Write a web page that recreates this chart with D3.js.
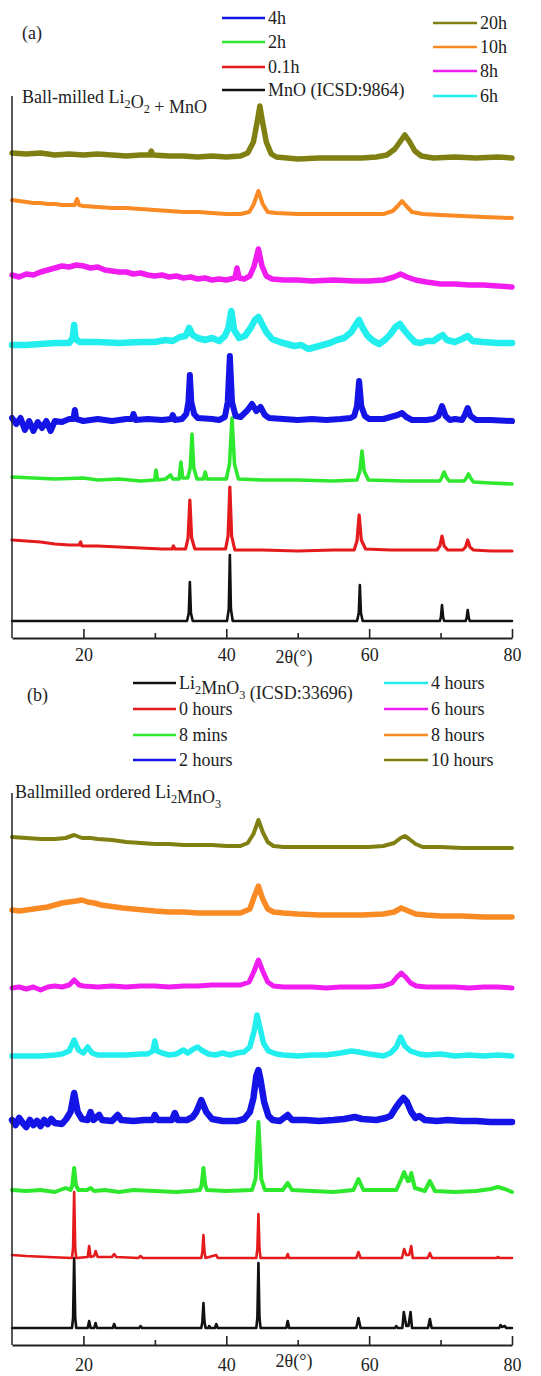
<!DOCTYPE html>
<html>
<head>
<meta charset="utf-8">
<script src="https://cdn.jsdelivr.net/npm/d3@7"></script>
<style>
  html, body { margin: 0; padding: 0; background: #fff; }
  svg { display: block; }
  text { font-family: "Liberation Serif", "Times New Roman", Times, serif; fill: #222; }
</style>
</head>
<body>
<svg id="chart" width="541" height="1376"></svg>
<script>
// ---------- shared axis data ----------
const thetaDomain = [10, 80];
const majorTicks = [20, 40, 60, 80];
const minorTicks = [30, 50, 70];
const xTitle = "2θ(°)";

// ---------- panel (a): ball-milled Li2O2 + MnO ----------
// each pattern: [2θ, intensity above its own baseline]
const aMnO = [[10,0],[34.5,0],[34.75,8],[34.9,39],[35.05,8],[35.3,0],[40.1,0],[40.35,12],[40.5,66],[40.65,12],[40.9,0],[58.3,0],[58.55,8],[58.7,36],[58.85,8],[59.1,0],[69.9,0],[70.05,4],[70.2,16],[70.35,4],[70.5,0],[73.5,0],[73.65,3],[73.8,11],[73.95,3],[74.1,0],[80,0]];
const a01h = [[10,10],[12,9],[14,8],[16,6],[18,5],[19.4,5],[19.6,8],[19.8,4],[22,4],[25,3],[28,2],[31,1],[32.4,1],[32.6,4],[32.8,1],[34.3,1],[34.65,12],[34.9,50],[35.15,12],[35.6,1],[39.9,1],[40.25,14],[40.5,63],[40.75,14],[41.2,0],[45,0],[50,-1],[55,0],[57.9,0],[58.3,9],[58.6,35],[58.9,10],[59.5,1],[63,0],[69.5,0],[69.9,4],[70.2,14],[70.5,4],[71,0],[73.1,0],[73.5,3],[73.8,10],[74.1,3],[74.6,0],[77,-1],[80,-1]];
const a2h = [[10,3],[13,2],[16,1],[20,2],[22,0],[25,1],[28,-1],[30,0],[30.15,10],[30.4,0],[31.5,1],[32.2,5],[32.5,1],[33.4,1],[33.65,18],[33.9,2],[34.6,2],[34.95,12],[35.2,46],[35.45,12],[35.9,1],[36.8,1],[37.05,8],[37.3,1],[40.0,1],[40.45,16],[40.8,62],[41.15,16],[41.7,1],[45,0],[50,0],[55,-1],[58.3,0],[58.7,9],[59.0,29],[59.3,9],[59.9,0],[65,-1],[69.9,-1],[70.2,3],[70.5,8],[70.8,3],[71.2,-1],[73.3,-1],[73.6,2],[73.9,6],[74.2,2],[74.6,-2],[77,-3],[80,-4]];
const a4h = [[10,2],[10.6,-4],[11.2,2],[11.8,-10],[12.4,-1],[13,-11],[13.6,-2],[14.2,-8],[14.8,-1],[15.4,-11],[16,-1],[17,-2],[18,1],[18.6,1],[18.8,10],[19,1],[20,-1],[22,1],[24,-1],[26,1],[26.8,1],[27,6],[27.3,0],[29,1],[31,0],[32.3,1],[32.5,5],[32.8,0],[33.8,1],[34.4,6],[34.7,18],[34.9,45],[35.1,18],[35.5,6],[36,2],[38,1],[39,0],[39.8,3],[40.2,18],[40.5,64],[40.8,18],[41.3,4],[42,3],[43,10],[43.6,16],[44.2,9],[44.8,13],[45.4,5],[46,2],[48,1],[50,0],[52,1],[54,0],[56,1],[57.4,2],[57.9,4],[58.3,14],[58.6,39],[58.9,14],[59.4,4],[60,1],[62,1],[64,5],[64.6,7],[65.2,3],[66,0],[68,0],[69,1],[69.7,4],[70.2,14],[70.7,4],[71.3,0],[72,1],[73,0],[73.4,5],[73.8,12],[74.2,4],[75,0],[77,0],[80,-1]];
const a6h = [[10,-3],[12,-3],[14,-2],[16,-1],[18,-1],[18.5,4],[18.7,17],[18.9,3],[19.5,0],[22,0],[25,-1],[28,0],[30,0],[31.5,2],[32.5,1],[33.5,5],[34.3,6],[34.8,14],[35.3,7],[36,4],[37,2],[38,4],[39,1],[39.8,6],[40.3,14],[40.7,31],[41.1,12],[41.8,4],[42.6,6],[43.4,14],[44.0,22],[44.5,25],[45.0,18],[45.6,10],[46.4,3],[47.5,0],[48.5,-2],[49.5,-4],[50.5,-3],[51.5,-7],[52.5,-5],[53.5,-3],[54.5,-1],[55.5,2],[56.5,4],[57.5,10],[58.2,18],[58.6,22],[59.1,14],[59.8,6],[60.6,1],[61.4,-2],[62.2,2],[63.0,8],[63.7,15],[64.3,18],[64.9,12],[65.6,6],[66.4,0],[67.2,-1],[68,1],[69,1],[69.8,5],[70.3,7],[70.9,2],[72,0],[73,3],[73.8,6],[74.5,1],[76,0],[78,-1],[80,-1]];
const a8h = [[10,5],[11,3],[12,6],[13,5],[14,8],[15,10],[16,12],[17,14],[18,13],[19,15],[20,14],[21,12],[22,13],[23,10],[24,9],[25,8],[26,8],[27,6],[28,7],[29,5],[30,4],[31,5],[32,3],[33,4],[34,2],[35,3],[36,1],[37,2],[38,0],[39,1],[40,0],[41.2,2],[41.5,12],[41.8,2],[42.5,1],[43.3,4],[43.9,14],[44.5,31],[45.0,14],[45.6,4],[46.4,1],[48,0],[50,0],[52,-1],[55,0],[58,-1],[60,-1],[62,0],[63.5,3],[64.4,6],[65.3,3],[66.5,0],[68,-2],[70,-4],[72,-4],[74,-5],[76,-5],[78,-6],[80,-7]];
const a10h = [[10,14],[11,13],[12,12],[13,11],[14,11],[15,10],[16,10],[17,9],[18,9],[18.8,9],[19.1,15],[19.4,9],[20,8],[22,7],[24,6],[26,6],[28,5],[30,4],[32,3],[34,2],[36,2],[38,1],[40,0],[42,0],[43.2,2],[43.8,9],[44.5,23],[45.1,10],[45.8,2],[47,1],[50,0],[55,0],[60,0],[62,0],[63.3,3],[64,8],[64.6,13],[65.2,8],[66,2],[67.5,0],[70,-1],[73,-2],[76,-3],[80,-4]];
const a20h = [[10,4],[12,3],[14,4],[16,2],[18,3],[20,2],[22,3],[24,2],[26,1],[28,2],[29.3,2],[29.5,6],[29.7,2],[32,1],[34,1],[36,0],[38,1],[40,0],[42,1],[43.0,4],[43.8,15],[44.4,38],[44.7,51],[45.0,38],[45.6,15],[46.3,3],[47,0],[50,-2],[53,-1],[56,-1],[59,-1],[61,0],[62.5,2],[63.6,8],[64.4,16],[65,22],[65.6,16],[66.4,6],[67.3,1],[69,-1],[72,0],[75,-1],[78,0],[80,-1]];

const aNames = ["MnO (ICSD:9864)", "0.1h", "2h", "4h", "6h", "8h", "10h", "20h"];
const aOffsets = [17, 88, 158, 218, 296, 358, 424, 481];

// ---------- panel (b): ball-milled ordered Li2MnO3 ----------
const bRef = [[10,0],[18.4,0],[18.55,10],[18.7,70],[18.85,10],[19.0,0],[20.6,0],[20.8,7],[21.0,0],[21.5,0],[21.7,5],[21.9,0],[24.1,0],[24.3,4],[24.5,0],[27.8,0],[28,2],[28.2,0],[36.5,0],[36.65,6],[36.8,25],[36.95,6],[37.1,0],[37.5,0],[37.6,2],[37.8,0],[38.4,0],[38.6,4],[38.8,0],[44.2,0],[44.35,10],[44.5,65],[44.65,10],[44.8,0],[48.4,0],[48.6,7],[48.8,0],[58.2,0],[58.5,10],[58.8,0],[63.6,0],[63.8,2],[64,0],[64.65,0],[64.85,16],[65.2,2],[65.5,2],[65.8,16],[66.0,0],[68.25,0],[68.5,9],[68.75,0],[78.2,0],[78.4,3],[78.6,1],[79,2],[79.2,0],[80,0]];
const b0h = [[10,3],[12,2],[15,1],[18.4,0],[18.55,10],[18.7,66],[18.85,10],[19.0,0],[20.6,1],[20.8,12],[21.0,1],[21.5,2],[21.7,7],[22.0,1],[24.0,1],[24.3,4],[24.6,1],[27.7,0],[28,2],[28.3,0],[33,0],[36.5,0],[36.65,6],[36.8,23],[36.95,6],[37.1,0],[37.6,1],[38.6,3],[38.8,0],[44.2,0],[44.35,9],[44.5,44],[44.65,9],[44.8,0],[48.4,0],[48.6,4],[48.8,0],[58.2,0],[58.5,6],[58.8,0],[64.6,0],[64.9,9],[65.2,3],[65.6,3],[65.9,12],[66.1,0],[68.2,0],[68.5,5],[68.8,0],[77.8,0],[78,1],[78.3,0],[80,0]];
const b8min = [[10,1],[12,0],[14,1],[16,-1],[17.5,3],[18.2,1],[18.45,6],[18.7,23],[18.95,6],[19.3,1],[20.5,1],[21,3],[21.5,0],[23,1],[25,-1],[27,1],[30,0],[33,-1],[35,0],[36.3,1],[36.55,6],[36.8,23],[37.05,6],[37.3,1],[40,0],[43.6,1],[44.1,12],[44.5,69],[44.9,12],[45.4,1],[47.9,1],[48.6,8],[49.2,1],[52,0],[55,-1],[57.8,1],[58.5,12],[59.2,1],[63.8,1],[64.5,12],[64.9,19],[65.4,10],[65.6,10],[65.9,18],[66.4,3],[67.8,0],[68.5,10],[69.2,0],[72,-1],[75,0],[77,2],[78,4],[79,2],[80,-1]];
const b2h = [[10,0],[10.5,-5],[11,2],[11.5,-3],[12,-7],[12.5,0],[13,-5],[13.5,-1],[14,-6],[14.5,0],[15,-4],[15.5,1],[16,-3],[17,-4],[17.6,1],[18.2,8],[18.7,27],[19.2,8],[19.8,1],[20.6,0],[21,8],[21.4,0],[22.2,5],[22.6,0],[24,-1],[24.8,5],[25.3,0],[27,-1],[28.5,0],[29.7,0],[30,5],[30.4,0],[32.4,0],[32.8,7],[33.2,0],[34.5,0],[35.3,3],[35.8,8],[36.5,20],[37.2,8],[38,1],[39.5,-1],[41.5,-1],[42.5,1],[43.3,8],[43.8,22],[44.2,44],[44.5,50],[44.8,40],[45.3,18],[45.9,4],[46.5,0],[47.5,-1],[48.6,5],[49.2,0],[51,0],[53,-1],[55,0],[56.5,1],[58,3],[59,1],[61,0],[62.3,2],[63,4],[63.7,12],[64.3,18],[64.8,22],[65.3,18],[65.9,8],[66.5,2],[67,4],[67.8,0],[69.5,-1],[71,0],[73,-1],[75,-1],[77,-2],[80,-2]];
const b4h = [[10,-1],[12,-1],[14,-1],[16,0],[17,1],[18,4],[18.7,15],[19.3,5],[20,2],[20.6,8],[21.2,2],[22,0],[24,0],[26,0],[28,1],[29,1],[29.7,4],[30,14],[30.3,4],[31,2],[32,0],[33,1],[34,5],[34.6,2],[35.4,6],[36,8],[36.5,5],[37.5,1],[38.5,0],[39.5,2],[40.5,0],[41.5,2],[42.5,3],[43.3,8],[43.9,24],[44.3,40],[44.7,28],[45.2,12],[45.9,4],[47,1],[48,0],[50,-1],[52,0],[54,0],[56,2],[57.5,4],[58.5,3],[60,1],[62,-1],[63,2],[63.8,8],[64.4,18],[65,9],[65.8,4],[67,1],[68,0],[70,1],[72,-1],[74,0],[76,-1],[78,0],[80,-1]];
const b6h = [[10,-1],[11,0],[12,-2],[13,0],[14,-3],[15,0],[16,1],[17,0],[18,2],[18.7,7],[19.4,2],[20,1],[22,0],[24,1],[26,0],[28,1],[30,1],[32,0],[34,1],[36,1],[38,2],[40,2],[42,2],[43.2,5],[43.9,16],[44.5,27],[45.1,16],[45.8,5],[46.6,1],[48,0],[50,0],[52,0],[54,-1],[56,0],[58,0],[60,0],[62,1],[63.2,4],[63.9,10],[64.5,14],[65.1,10],[65.8,4],[66.6,1],[68,0],[70,0],[72,0],[74,-1],[76,0],[78,0],[80,-1]];
const b8h = [[10,5],[11,4],[12,5],[13,6],[14,7],[15,8],[16,10],[17,12],[18,13],[19,14],[19.8,15],[20.6,13],[21.5,12],[22.5,10],[23.5,9],[24.5,8],[25.5,7],[27,6],[28.5,5],[30,4],[32,3],[34,3],[36,2],[38,2],[40,2],[42,2],[43.3,6],[43.9,18],[44.5,29],[45.1,16],[45.8,6],[46.6,3],[48,2],[50,1],[53,0],[56,0],[59,0],[62,1],[63.5,3],[64.5,7],[65.5,4],[66.5,1],[68,0],[70,-1],[73,-1],[76,-2],[80,-2]];
const b10h = [[10,9],[12,8],[14,7],[16,7],[17.5,8],[18.7,11],[19.8,8],[21,8],[22,7],[24,6],[26,4],[28,3],[30,2],[32,2],[34,1],[36,1],[38,1],[40,0],[42,0],[43.0,3],[43.8,12],[44.5,26],[45.1,14],[45.8,4],[46.6,0],[48,-1],[51,-1],[54,-1],[57,-1],[60,-1],[62,0],[63.5,3],[64.4,8],[65,10],[65.6,7],[66.5,2],[67.5,-1],[70,-1],[73,-2],[76,-2],[80,-2]];

const bNames = ["Li2MnO3 (ICSD:33696)", "0 hours", "8 mins", "2 hours", "4 hours", "6 hours", "8 hours", "10 hours"];
const bOffsets = [17, 87, 154, 225, 290, 358, 430, 499];

// colours, bottom trace to top trace
const colors = ["#111111", "#e41a1c", "#2ee82e", "#1414e6", "#22eeee", "#f01cf0", "#f98a24", "#808012"];

// ---------- drawing ----------
const svg = d3.select("#chart");
const FONT = 18;

const x = d3.scaleLinear().domain(thetaDomain).range([12, 512]);

// writes a label, turning digits after element symbols into subscripts
function richText(sel, str, size) {
  const parts = str.match(/[A-Za-z]+\d+|[^A-Za-z]+|[A-Za-z]+/g) || [str];
  const isFormula = /(Li|Mn|O)\d/.test(str);
  parts.forEach(p => {
    const m = p.match(/^([A-Za-z]+)(\d+)$/);
    if (isFormula && m) {
      sel.append("tspan").text(m[1]);
      sel.append("tspan").attr("font-size", size * 0.68).attr("dy", size * 0.28).text(m[2]);
      sel.append("tspan").attr("dy", -size * 0.28).text("");
    } else {
      sel.append("tspan").text(p);
    }
  });
}

function drawPanel(cfg) {
  const g = svg.append("g");
  const y = d3.scaleLinear().domain([0, cfg.yBottom - cfg.yTop]).range([cfg.yBottom, cfg.yTop]);

  // patterns (stroke width stands in for the counting noise of each scan)
  cfg.series.forEach((pts, i) => {
    const line = d3.line()
      .x(d => x(d[0]))
      .y(d => y(d[1] + cfg.offsets[i]))
      .curve(d3.curveLinear);
    g.append("path")
      .datum(pts)
      .attr("fill", "none")
      .attr("stroke", colors[i])
      .attr("stroke-width", cfg.widths[i])
      .attr("stroke-linejoin", "round")
      .attr("stroke-linecap", "round")
      .attr("d", line);
  });

  // left axis line
  g.append("line")
    .attr("x1", 12).attr("x2", 12)
    .attr("y1", cfg.yTop).attr("y2", cfg.yBottom)
    .attr("stroke", "#222").attr("stroke-width", 1.5);

  // bottom axis, ticks pointing into the plot
  const axMajor = d3.axisBottom(x).tickValues(majorTicks).tickSizeInner(-9).tickSizeOuter(0)
    .tickPadding(cfg.pad).tickFormat(d3.format("d"));
  const gx = g.append("g").attr("transform", `translate(0,${cfg.yBottom})`).call(axMajor);
  gx.select(".domain").attr("stroke", "#222").attr("stroke-width", 2);
  gx.selectAll(".tick line").attr("stroke", "#222").attr("stroke-width", 1.6);
  gx.selectAll(".tick text").attr("font-size", FONT).attr("fill", "#222")
    .style("font-family", "'Liberation Serif', 'Times New Roman', Times, serif");

  const axMinor = d3.axisBottom(x).tickValues(minorTicks).tickSizeInner(-5).tickSizeOuter(0).tickFormat("");
  const gm = g.append("g").attr("transform", `translate(0,${cfg.yBottom})`).call(axMinor);
  gm.select(".domain").remove();
  gm.selectAll(".tick line").attr("stroke", "#222").attr("stroke-width", 1.6);

  // x title sits in the tick-label row
  g.append("text").attr("x", 294).attr("y", cfg.titleY).attr("text-anchor", "middle")
    .attr("font-size", FONT).text(xTitle);

  // panel tag and sample label
  g.append("text").attr("x", cfg.tag[0]).attr("y", cfg.tag[1]).attr("font-size", FONT).text(cfg.tagText);
  richText(g.append("text").attr("x", cfg.sample[0]).attr("y", cfg.sample[1]).attr("font-size", FONT), cfg.sampleText, FONT);

  // legend, two columns
  cfg.legend.forEach(col => {
    col.rows.forEach((r, k) => {
      g.append("line").attr("x1", col.x1).attr("x2", col.x2)
        .attr("y1", col.ys[k]).attr("y2", col.ys[k])
        .attr("stroke", colors[r]).attr("stroke-width", 2.6);
      richText(g.append("text").attr("x", col.x2 + 3).attr("y", col.ys[k]).attr("dy", "0.33em")
        .attr("font-size", FONT), cfg.names[r], FONT);
    });
  });
}

drawPanel({
  series: [aMnO, a01h, a2h, a4h, a6h, a8h, a10h, a20h],
  offsets: aOffsets,
  names: aNames,
  widths: [2.6, 3.2, 3.6, 6, 6.5, 5.5, 4, 5.5],
  yTop: 96, yBottom: 638, pad: 10, titleY: 663,
  tag: [22, 39], tagText: "(a)",
  sample: [22, 103], sampleText: "Ball-milled Li2O2 + MnO",
  legend: [
    { x1: 222, x2: 265, ys: [18, 42, 67, 90], rows: [3, 2, 1, 0] },
    { x1: 433, x2: 477, ys: [23, 47, 71, 96], rows: [7, 6, 5, 4] }
  ]
});

drawPanel({
  series: [bRef, b0h, b8min, b2h, b4h, b6h, b8h, b10h],
  offsets: bOffsets,
  names: bNames,
  widths: [2.6, 2.6, 4, 6.5, 5.5, 5, 5.5, 4],
  yTop: 793, yBottom: 1345, pad: 13, titleY: 1367,
  tag: [27, 701], tagText: "(b)",
  sample: [15, 798], sampleText: "Ballmilled ordered Li2MnO3",
  legend: [
    { x1: 133, x2: 176, ys: [683, 709, 735, 760], rows: [0, 1, 2, 3] },
    { x1: 384, x2: 428, ys: [683, 709, 735, 760], rows: [4, 5, 6, 7] }
  ]
});
</script>
</body>
</html>
